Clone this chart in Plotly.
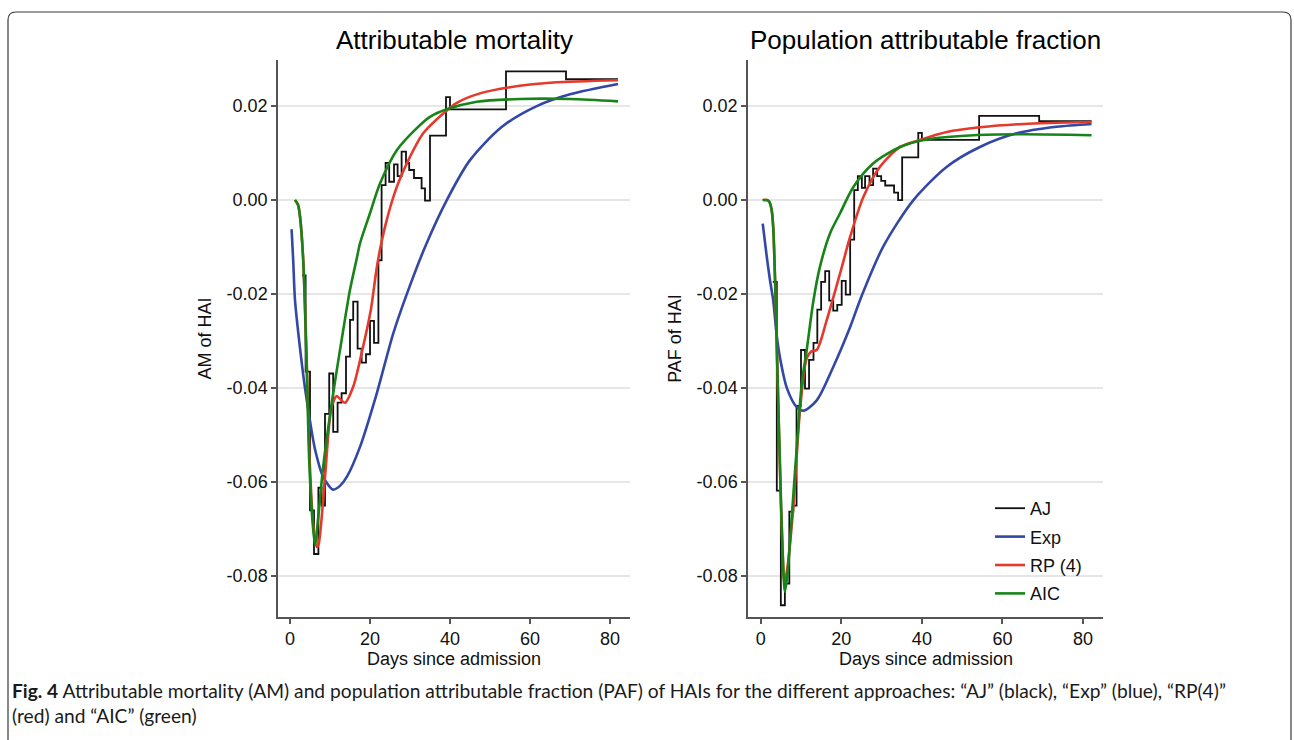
import plotly.graph_objects as go
from plotly.subplots import make_subplots

# ---------------- data ----------------
# Left panel: Attributable mortality (AM)
am_aj_days = [3.0, 3.9, 5.0, 6.0, 7.1, 7.9, 8.75, 9.8, 10.8, 11.9, 12.9, 14.0, 15.0, 15.8,
              16.9, 17.9, 19.0, 20.0, 21.0, 22.1, 22.9, 23.9, 24.8, 26.0, 26.9, 27.9, 29.0,
              29.8, 31.0, 32.9, 33.75, 35.0, 39.0, 40.0, 54.0, 69.0, 82.0]
am_aj_vals = [-0.0160, -0.0365, -0.0660, -0.0753, -0.0612, -0.0650, -0.0455, -0.0369, -0.0493,
              -0.0431, -0.0411, -0.0333, -0.0255, -0.0216, -0.0316, -0.0346, -0.0328, -0.0257,
              -0.0304, -0.0128, 0.0032, 0.0079, 0.0039, 0.0076, 0.0051, 0.0103, 0.0079, 0.0064,
              0.0047, 0.0025, -0.0001, 0.0137, 0.0219, 0.0193, 0.0274, 0.0257, 0.0257]

am_exp_days = [0.4, 0.8, 1.25, 2.5, 3.75, 5.0, 6.25, 8.3, 10.8, 12.5, 14.2, 17.5, 21.7, 25.8,
               29.2, 34.0, 39.2, 45.0, 53.0, 61.7, 70.0, 82.0]
am_exp_vals = [-0.0062, -0.0128, -0.0213, -0.0315, -0.0400, -0.0470, -0.0530, -0.0589, -0.0616,
               -0.0608, -0.0589, -0.0525, -0.0411, -0.0284, -0.0200, -0.0095, 0.0000, 0.0085,
               0.0156, 0.0200, 0.0225, 0.0247]

am_rp_days = [1.25, 2.0, 2.5, 3.3, 4.2, 4.9, 5.8, 6.7, 7.1, 8.75, 10.4, 11.7, 12.7, 13.75, 15.8,
              17.9, 20.2, 21.8, 23.75, 26.7, 30.0, 33.3, 38.3, 41.7, 47.5, 55.0, 65.8, 82.0]
am_rp_vals = [0.0, -0.0010, -0.0035, -0.0125, -0.0350, -0.0550, -0.0690, -0.0738, -0.0734,
              -0.0589, -0.0440, -0.0417, -0.0425, -0.0431, -0.0397, -0.0326, -0.0234, -0.0138,
              -0.0057, 0.0028, 0.0092, 0.0142, 0.0184, 0.0207, 0.0227, 0.0240, 0.0250, 0.0255]

am_aic_days = [1.25, 2.0, 2.5, 3.3, 4.2, 4.8, 5.6, 6.25, 7.0, 8.3, 10.8, 13.3, 15.0, 16.7, 17.5,
               20.0, 22.5, 26.7, 31.7, 35.0, 39.2, 46.7, 57.5, 70.0, 82.0]
am_aic_vals = [0.0, -0.0010, -0.0035, -0.0128, -0.0360, -0.0553, -0.0680, -0.0734, -0.0680,
               -0.0567, -0.0411, -0.0277, -0.0191, -0.0124, -0.0092, -0.0028, 0.0035, 0.0106,
               0.0153, 0.0177, 0.0193, 0.0209, 0.0215, 0.0215, 0.0210]

# Right panel: Population attributable fraction (PAF)
paf_aj_days = [3.0, 4.0, 5.0, 6.0, 7.1, 8.1, 8.9, 10.0, 11.0, 12.0, 13.1, 14.05, 15.0, 16.0,
               17.0, 18.0, 19.0, 20.1, 21.1, 22.2, 23.2, 24.1, 25.1, 25.9, 27.0, 27.9, 28.9,
               29.9, 30.9, 33.1, 34.1, 35.1, 39.1, 40.0, 54.2, 69.1, 82.1]
paf_aj_vals = [-0.0174, -0.0618, -0.0862, -0.0816, -0.0663, -0.0650, -0.0438, -0.0319, -0.0401,
               -0.0340, -0.0304, -0.0233, -0.0174, -0.0151, -0.0214, -0.0235, -0.0223, -0.0172,
               -0.0201, -0.0084, 0.0021, 0.0051, 0.0026, 0.0051, 0.0032, 0.0067, 0.0051, 0.0041,
               0.0031, 0.0016, 0.0000, 0.0091, 0.0143, 0.0128, 0.0179, 0.0168, 0.0168]

paf_exp_days = [0.5, 1.5, 2.3, 3.1, 4.0, 5.0, 6.5, 8.9, 10.6, 13.9, 18.0, 22.2, 25.0, 30.4,
                37.9, 46.2, 54.4, 63.5, 73.4, 82.1]
paf_exp_vals = [-0.0050, -0.0120, -0.0170, -0.0213, -0.0290, -0.0345, -0.0400, -0.0440, -0.0448,
                -0.0426, -0.0355, -0.0270, -0.0205, -0.0099, 0.0000, 0.0071, 0.0113, 0.0142,
                0.0156, 0.0162]

paf_rp_days = [0.5, 1.5, 2.1, 2.7, 3.1, 3.6, 4.2, 4.8, 5.4, 5.9, 6.5, 8.1, 9.75, 11.4, 12.6,
               13.9, 16.4, 19.7, 22.2, 25.5, 29.6, 34.6, 39.5, 46.2, 54.4, 65.2, 82.1]
paf_rp_vals = [0.0, 0.0, -0.0003, -0.0020, -0.0057, -0.0180, -0.0380, -0.0580, -0.0740, -0.0812,
               -0.0790, -0.0653, -0.0447, -0.0337, -0.0322, -0.0319, -0.0255, -0.0156, -0.0078,
               0.0007, 0.0071, 0.0113, 0.0128, 0.0145, 0.0155, 0.0162, 0.0166]

paf_aic_days = [0.5, 1.5, 2.1, 2.7, 3.1, 3.6, 4.2, 4.8, 5.4, 6.0, 6.6, 7.3, 8.9, 10.2, 11.4,
                13.1, 14.7, 17.2, 19.7, 23.0, 27.9, 34.6, 41.2, 52.8, 65.2, 82.1]
paf_aic_vals = [0.0, 0.0, -0.0003, -0.0020, -0.0057, -0.0180, -0.0380, -0.0567, -0.0740, -0.0833,
                -0.0800, -0.0723, -0.0532, -0.0390, -0.0320, -0.0213, -0.0142, -0.0071, -0.0028,
                0.0028, 0.0078, 0.0113, 0.0129, 0.0138, 0.0140, 0.0138]

series_names = ["AJ", "Exp", "RP (4)", "AIC"]
series_colors = ["#111111", "#3347a6", "#e5392b", "#178417"]

y_tickvals = [0.02, 0.0, -0.02, -0.04, -0.06, -0.08]
y_ticktext = ["0.02", "0.00", "-0.02", "-0.04", "-0.06", "-0.08"]
x_tickvals = [0, 20, 40, 60, 80]

panel_titles = ["Attributable mortality", "Population attributable fraction"]
y_titles = ["AM of HAI", "PAF of HAI"]
x_title = "Days since admission"
caption_html = ("<b>Fig. 4</b> Attributable mortality (AM) and population attributable fraction (PAF) "
                "of HAIs for the different approaches: \u201cAJ\u201d (black), \u201cExp\u201d (blue), "
                "\u201cRP(4)\u201d<br>(red) and \u201cAIC\u201d (green)")

# ---------------- figure ----------------
W, H = 1294, 740
FONT = "Liberation Sans, Arial, sans-serif"

fig = make_subplots(rows=1, cols=2)

panels = [
    (1, [(am_aj_days, am_aj_vals), (am_exp_days, am_exp_vals),
         (am_rp_days, am_rp_vals), (am_aic_days, am_aic_vals)]),
    (2, [(paf_aj_days, paf_aj_vals), (paf_exp_days, paf_exp_vals),
         (paf_rp_days, paf_rp_vals), (paf_aic_days, paf_aic_vals)]),
]

for col, data in panels:
    for i, (xs, ys) in enumerate(data):
        is_step = (i == 0)
        fig.add_trace(
            go.Scatter(
                x=xs, y=ys, mode="lines",
                name=series_names[i],
                legendgroup=series_names[i],
                showlegend=(col == 2),
                line=dict(color=series_colors[i],
                          width=1.8 if is_step else 2.6,
                          shape="hv" if is_step else "spline",
                          smoothing=None if is_step else 0.8),
                hoverinfo="skip",
            ),
            row=1, col=col,
        )

# plot-area geometry (pixels -> paper)
left_dom = [278 / W, 630 / W]
right_dom = [748 / W, 1103 / W]
y_dom = [1 - 617 / H, 1 - 60 / H]

axis_common = dict(
    showline=True, linecolor="#555555", linewidth=1.5,
    ticks="outside", ticklen=5, tickwidth=1.5, tickcolor="#555555",
    tickfont=dict(family=FONT, size=18, color="#111111"),
    zeroline=False, mirror=False,
)

fig.update_xaxes(**axis_common, showgrid=False, tickvals=x_tickvals)
fig.update_yaxes(**axis_common, showgrid=True, gridcolor="#e6e6e6", gridwidth=1.6,
                 tickvals=y_tickvals, ticktext=y_ticktext, range=[-0.0887, 0.0298])

fig.update_layout(
    xaxis=dict(domain=left_dom, range=[-3.0, 85.0]),
    xaxis2=dict(domain=right_dom, range=[-3.15, 84.94]),
    yaxis=dict(domain=y_dom, title=dict(text=y_titles[0], standoff=10,
                                        font=dict(family=FONT, size=18, color="#111111"))),
    yaxis2=dict(domain=y_dom, title=dict(text=y_titles[1], standoff=10,
                                         font=dict(family=FONT, size=18, color="#111111"))),
)

annotations = []
for dom, title in zip([left_dom, right_dom], panel_titles):
    annotations.append(dict(
        text=title, xref="paper", yref="paper",
        x=(dom[0] + dom[1]) / 2, y=1 - 40 / H, xanchor="center", yanchor="middle",
        showarrow=False, font=dict(family=FONT, size=26, color="#000000")))
    annotations.append(dict(
        text=x_title, xref="paper", yref="paper",
        x=(dom[0] + dom[1]) / 2, y=1 - 659 / H, xanchor="center", yanchor="middle",
        showarrow=False, font=dict(family=FONT, size=18, color="#111111")))

annotations.append(dict(
    text=caption_html, xref="paper", yref="paper", x=10 / W, y=1 - 677 / H,
    xanchor="left", yanchor="top", align="left", showarrow=False,
    font=dict(family="Lato, Open Sans, sans-serif", size=19.2, color="#1a1a1a")))

# rounded frame around the figure (extends past the bottom edge)
x0, x1, y0, r = 8 / W, 1291 / W, 1 - 12 / H, 8
rx, ry = r / W, r / H
frame_path = (f"M {x0},-0.05 L {x0},{y0 - ry} Q {x0},{y0} {x0 + rx},{y0} "
              f"L {x1 - rx},{y0} Q {x1},{y0} {x1},{y0 - ry} L {x1},-0.05")

fig.update_layout(
    width=W, height=H,
    margin=dict(l=0, r=0, t=0, b=0),
    paper_bgcolor="white", plot_bgcolor="white",
    font=dict(family=FONT, size=18, color="#111111"),
    annotations=annotations,
    shapes=[dict(type="path", path=frame_path, xref="paper", yref="paper",
                 line=dict(color="#3a3a3a", width=1.2), fillcolor="rgba(0,0,0,0)")],
    legend=dict(x=990 / W, y=1 - 490 / H, xanchor="left", yanchor="top",
                bgcolor="rgba(0,0,0,0)", borderwidth=0,
                font=dict(family=FONT, size=18, color="#111111"),
                tracegroupgap=2, traceorder="grouped", itemwidth=30),
)

fig.write_html("out.html")
